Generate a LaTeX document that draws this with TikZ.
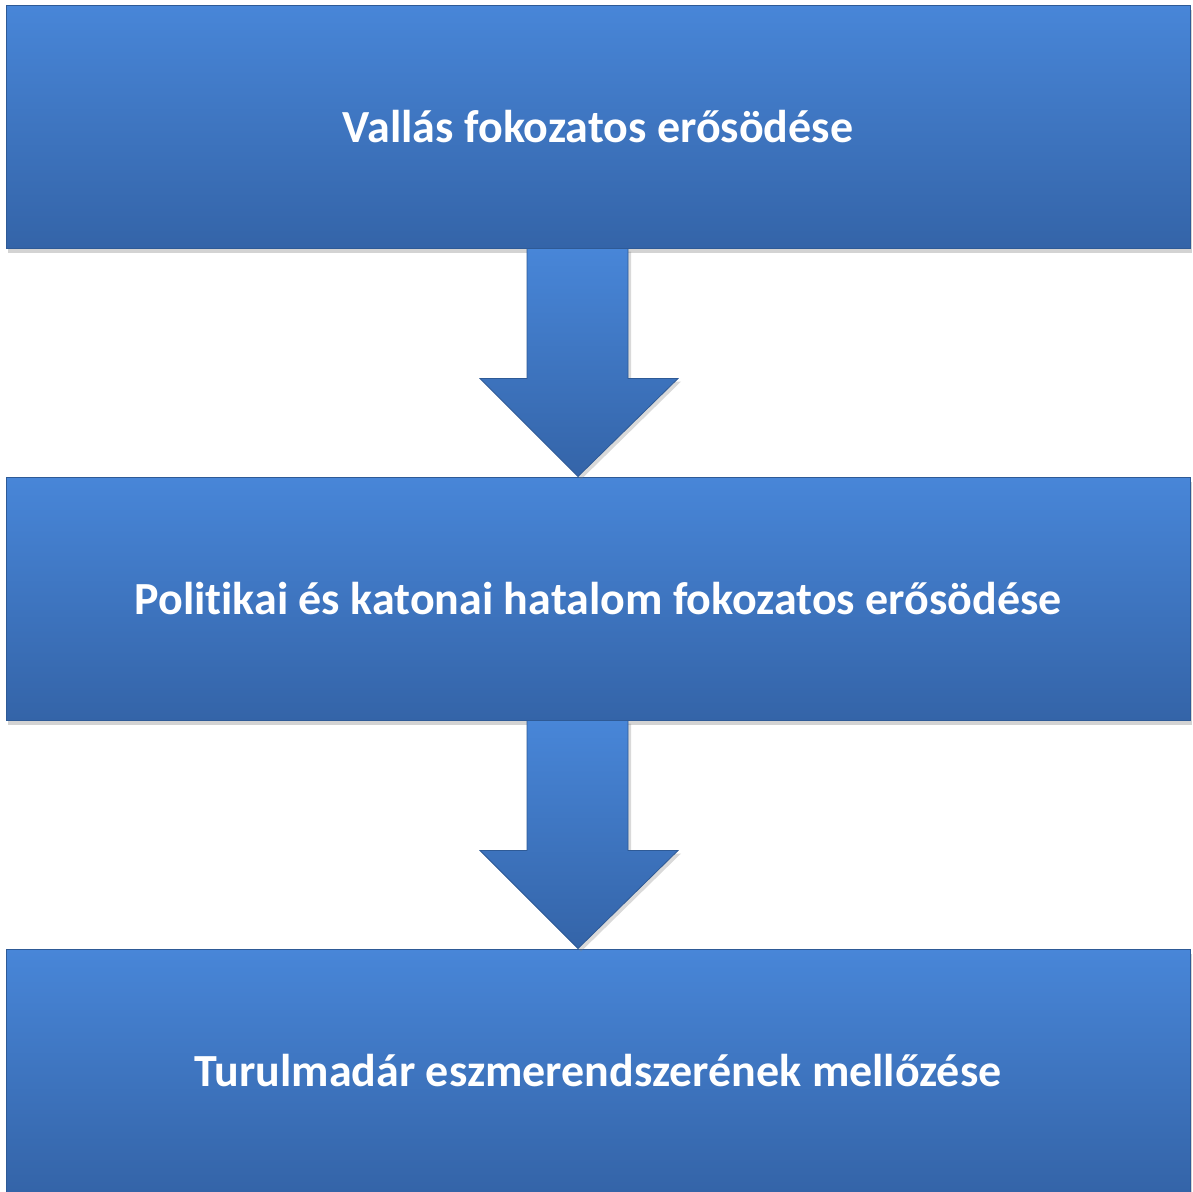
\documentclass[tikz,border=0pt]{standalone}
\usepackage{fontspec}
\setmainfont{Carlito}[Ligatures=CommonOff]
\usepackage{tikz}
\usetikzlibrary{positioning, calc, shadows}

\definecolor{boxtop}{HTML}{4886D8}
\definecolor{boxbot}{HTML}{3464A8}
\definecolor{boxedge}{HTML}{2E5A96}

\begin{document}
\begin{tikzpicture}[
    x=1pt, y=1pt,
    node distance=228pt,
    stage/.style={rectangle, top color=boxtop, bottom color=boxbot, draw=boxedge, line width=1pt,
        minimum width=1184pt, minimum height=243pt, inner sep=0pt, text depth=-8pt,
        font=\fontsize{46}{50}\selectfont\bfseries, text=white,
        drop shadow={shadow xshift=2pt, shadow yshift=-5pt, opacity=.35}},
    downarrow/.style={top color=boxtop, bottom color=boxbot, draw=boxedge, line width=.8pt,
        drop shadow={shadow xshift=3pt, shadow yshift=-3pt, opacity=.3}}
]
    \useasboundingbox (0,0) rectangle (1193,-1191);

    \node (vallas) [stage] at (598,-126.5) {Vallás fokozatos erősödése};
    \node (hatalom) [stage, below=of vallas] {Politikai és katonai hatalom fokozatos erősödése};
    \node (turul) [stage, below=of hatalom] {Turulmadár eszmerendszerének mellőzése};

    % block arrows between the stages
    \foreach \from/\to in {vallas/hatalom, hatalom/turul}{
        \path[downarrow] ($(\from.south)+(-71,0)$) -- ($(\from.south)+(30,0)$)
            -- ($(\from.south)+(30,-130)$) -- ($(\from.south)+(80,-130)$)
            -- ($(\to.north)+(-20,0)$) -- ($(\from.south)+(-118,-130)$)
            -- ($(\from.south)+(-71,-130)$) -- cycle;
    }
\end{tikzpicture}
\end{document}
